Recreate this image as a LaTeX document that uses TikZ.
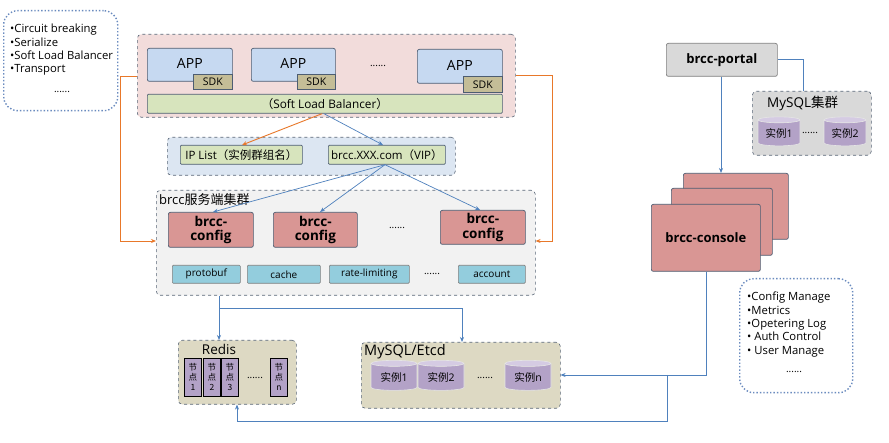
\documentclass[tikz,border=0pt]{standalone}
\usepackage{fontspec}
\setmainfont{Open Sans}
\newfontfamily\cjk{Noto Sans CJK SC}
\usetikzlibrary{shapes.geometric,arrows.meta,calc}
\definecolor{pinkbg}{HTML}{F2DCDB}
\definecolor{appbl}{HTML}{C6D9F1}
\definecolor{sdkc}{HTML}{C4BD97}
\definecolor{greenc}{HTML}{D7E4BD}
\definecolor{ipbg}{HTML}{DCE6F2}
\definecolor{clbg}{HTML}{F2F2F2}
\definecolor{rosec}{HTML}{D99694}
\definecolor{cyanc}{HTML}{93CDDD}
\definecolor{tanbg}{HTML}{DDD9C3}
\definecolor{purc}{HTML}{B3A2C7}
\definecolor{purtop}{HTML}{D5CBE3}
\definecolor{grayc}{HTML}{D9D9D9}
\definecolor{linec}{HTML}{4F81BD}
\definecolor{orangec}{HTML}{E8782A}
\definecolor{dashc}{HTML}{5A6778}
\definecolor{boxc}{HTML}{4D5D72}
\definecolor{dotc}{HTML}{6A8BBF}
\begin{document}
\begin{tikzpicture}[x=1pt,y=-1pt,
  cont/.style={draw=dashc, dashed, line width=0.6pt, rounded corners=4pt, anchor=north west, inner sep=0pt},
  sbox/.style={draw=boxc, line width=0.7pt, rounded corners=2pt, anchor=north west, inner sep=0pt, align=center},
  dotbox/.style={draw=dotc, dotted, line width=1.4pt, rounded corners=14pt, anchor=north west, inner sep=0pt},
  lbl/.style={inner sep=0pt},
  dots/.style={inner sep=0pt, font=\fontsize{10}{12}\selectfont},
  cyl/.style={cylinder, shape border rotate=90, aspect=0.22, draw=white!80!gray, line width=0.6pt,
     cylinder uses custom fill, cylinder body fill=purc, cylinder end fill=purtop,
     minimum width=#1, inner sep=0pt, font=\fontsize{10.5}{12}\selectfont},
  nodebox/.style={draw=black, line width=0.8pt, fill=purc, anchor=north west, inner sep=0pt,
     minimum width=17pt, minimum height=38pt, align=center, font=\fontsize{8.5}{10}\cjk},
  arr/.style={draw=linec, line width=0.7pt, -{Stealth[length=5pt,width=4pt]}},
  ln/.style={draw=linec, line width=0.7pt},
  oarr/.style={draw=orangec, line width=0.9pt, -{Stealth[length=5pt,width=4pt]}},
]
\fill[white] (0,0) rectangle (889,443);
\useasboundingbox (0,0) rectangle (889,443);

% top-left bullets
\node[dotbox, minimum width=114pt, minimum height=100pt] (bulL) at (3,10) {};
\node[lbl, anchor=north west, align=left, font=\fontsize{11.3}{13.3}\selectfont] (bulLt) at (10,24)
  {•Circuit breaking\\•Serialize\\•Soft Load Balancer\\•Transport};
\node[dots] (bulLd) at (62,92) {......};

% app layer
\node[cont, fill=pinkbg, minimum width=378pt, minimum height=83pt] (pink) at (137,34) {};
\node[sbox, fill=appbl, minimum width=85pt, minimum height=33pt, font=\fontsize{14}{15}\selectfont] (app1) at (147,48) {\raisebox{2pt}{APP}};
\node[sbox, fill=sdkc, rounded corners=0pt, minimum width=39pt, minimum height=15pt, font=\fontsize{10.5}{12}\selectfont] (sdk1) at (193,74) {SDK};
\node[sbox, fill=appbl, minimum width=84pt, minimum height=33pt, font=\fontsize{14}{15}\selectfont] (app2) at (251,48) {\raisebox{2pt}{APP}};
\node[sbox, fill=sdkc, rounded corners=0pt, minimum width=38pt, minimum height=15pt, font=\fontsize{10.5}{12}\selectfont] (sdk2) at (297,74) {SDK};
\node[dots] (appd) at (378,66) {......};
\node[sbox, fill=appbl, minimum width=85pt, minimum height=34pt, font=\fontsize{14}{15}\selectfont] (app3) at (417,49) {\raisebox{2pt}{APP}};
\node[sbox, fill=sdkc, rounded corners=0pt, minimum width=39pt, minimum height=16pt, font=\fontsize{10.5}{12}\selectfont] (sdk3) at (463,76) {SDK};
\node[sbox, fill=greenc, rounded corners=1pt, minimum width=355pt, minimum height=19pt, font=\fontsize{11.8}{13}\selectfont] (slb) at (147,94) {{\cjk （}Soft Load Balancer{\cjk ）}};

% ip layer
\node[cont, fill=ipbg, minimum width=288pt, minimum height=38pt] (ipc) at (167,137) {};
\node[sbox, fill=greenc, rounded corners=1pt, minimum width=122pt, minimum height=19pt, font=\fontsize{11.5}{13}\selectfont] (ip) at (180,145) {IP List{\cjk （实例群组名）}};
\node[sbox, fill=greenc, rounded corners=1pt, minimum width=117pt, minimum height=19pt, font=\fontsize{11.5}{13}\selectfont] (vip) at (328,145) {brcc.XXX.com{\cjk （}VIP{\cjk ）}};

% server cluster
\node[cont, fill=clbg, minimum width=379pt, minimum height=105pt] (cluster) at (156,190) {};
\node[lbl, anchor=west, font=\fontsize{13}{14}\selectfont] (clusterl) at (159,200) {brcc{\cjk 服务端集群}};
\node[sbox, fill=rosec, minimum width=85pt, minimum height=35pt, font=\fontsize{13.5}{14.5}\bfseries] (cfg1) at (168,212) {brcc-\\config};
\node[sbox, fill=rosec, minimum width=84pt, minimum height=35pt, font=\fontsize{13.5}{14.5}\bfseries] (cfg2) at (273,212) {brcc-\\config};
\node[dots] (cfgd) at (397,228) {......};
\node[sbox, fill=rosec, minimum width=85pt, minimum height=34pt, font=\fontsize{13.5}{14.5}\bfseries] (cfg3) at (440,210) {brcc-\\config};
\node[sbox, draw=gray, fill=cyanc, rounded corners=1pt, minimum width=68pt, minimum height=18pt, font=\fontsize{10}{11}\selectfont] (pb) at (172,265) {protobuf};
\node[sbox, draw=gray, fill=cyanc, rounded corners=1pt, minimum width=73pt, minimum height=18pt, font=\fontsize{10}{11}\selectfont] (cache) at (247,265) {cache};
\node[sbox, draw=gray, fill=cyanc, rounded corners=1pt, minimum width=80pt, minimum height=18pt, font=\fontsize{10}{11}\selectfont] (rl) at (329,265) {rate-limiting};
\node[dots] (smd) at (432,274) {......};
\node[sbox, draw=gray, fill=cyanc, rounded corners=1pt, minimum width=67pt, minimum height=18pt, font=\fontsize{10}{11}\selectfont] (acc) at (458,265) {account};

% redis
\node[cont, fill=tanbg, minimum width=118pt, minimum height=64pt] (redis) at (178,340) {};
\node[lbl, font=\fontsize{13.5}{15}\selectfont] (redisl) at (219,349) {Redis};
\node[nodebox] (n1) at (184,358) {节\\点\\1};
\node[nodebox] (n2) at (203,358) {节\\点\\2};
\node[nodebox] (n3) at (221,358) {节\\点\\3};
\node[dots] (nd) at (255,378) {......};
\node[nodebox] (nn) at (270,358) {节\\点\\n};

% mysql/etcd
\node[cont, fill=tanbg, minimum width=199pt, minimum height=66pt] (mysql) at (361,342) {};
\node[lbl, anchor=west, font=\fontsize{14.5}{16}\selectfont] (mysqll) at (364,352) {MySQL/Etcd};
\node[cyl=46pt, minimum height=30pt] (i1) at (394,377) {{\cjk 实例}1};
\node[cyl=46pt, minimum height=30pt] (i2) at (441,377) {{\cjk 实例}2};
\node[dots] (id) at (485,378) {......};
\node[cyl=46pt, minimum height=30pt] (in) at (528,377) {{\cjk 实例}n};

% portal
\node[sbox, draw=gray, fill=grayc, minimum width=111pt, minimum height=33pt, font=\fontsize{13}{14}\bfseries] (portal) at (666,43) {brcc-portal};
\node[cont, fill=grayc, minimum width=119pt, minimum height=64pt] (mysqlc) at (752,91) {};
\node[lbl, anchor=west, font=\fontsize{13.5}{15}\selectfont] (mysqlcl) at (767,103) {MySQL{\cjk 集群}};
\node[cyl=42pt, minimum height=29pt] (m1) at (779,133) {{\cjk 实例}1};
\node[dots] (md) at (810,133) {......};
\node[cyl=42pt, minimum height=29pt] (m2) at (845,133) {{\cjk 实例}2};

% console
\node[sbox, fill=rosec, minimum width=105pt, minimum height=66pt] (cback) at (683,173) {};
\node[sbox, fill=rosec, minimum width=101pt, minimum height=67pt] (cmid) at (671,188) {};
\node[sbox, fill=rosec, minimum width=109pt, minimum height=67pt, font=\fontsize{13}{14}\bfseries] (cfront) at (651,204) {brcc-console};

% right bullets
\node[dotbox, minimum width=113pt, minimum height=114pt] (bulR) at (739,278) {};
\node[lbl, anchor=north west, align=left, font=\fontsize{11.3}{13.3}\selectfont] (bulRt) at (747,292)
  {•Config Manage\\•Metrics\\•Opetering Log\\• Auth Control\\• User Manage};
\node[dots] (bulRd) at (794,372) {......};

% connectors
\draw[oarr] ($(slb.south west)+(175,0)$) -- ($(ip.north west)+(62,0)$);
\draw[arr] ($(slb.south west)+(177,0)$) -- ($(vip.north west)+(55,0)$);
\coordinate (vs) at ($(vip.south west)+(57,0)$);
\draw[arr] (vs) -- ($(cfg1.north west)+(45,0)$);
\draw[arr] (vs) -- ($(cfg2.north west)+(47,0)$);
\draw[arr] (vs) -- ($(cfg3.north west)+(40,0)$);

\coordinate (oL1) at (120,76); \coordinate (oL2) at (120,241);
\draw[oarr] (pink.west |- oL1) -- (oL1) -- (oL2) -- (cluster.west |- oL2);
\coordinate (oR1) at (552,75); \coordinate (oR2) at (552,241);
\draw[oarr] (pink.east |- oR1) -- (oR1) -- (oR2) -- (cluster.east |- oR2);

\coordinate (b1) at (219,308); \coordinate (b2) at (462,308);
\draw[arr] (cluster.south -| b1) -- (redis.north -| b1);
\draw[arr] (b1) -- (b2) -- (mysql.north -| b2);

\coordinate (pc) at (721,120);
\draw[arr] (portal.south -| pc) -- (cback.north -| pc);
\coordinate (pm) at (803,59);
\draw[ln] (portal.east |- pm) -- (pm) -- (mysqlc.north -| pm);

\coordinate (c1) at (706,375); \coordinate (c2) at (667,375);
\coordinate (c3) at (667,421); \coordinate (c4) at (237,421);
\draw[arr] (cfront.south -| c1) -- (c1) -- (mysql.east |- c1);
\draw[arr] (c2) -- (c3) -- (c4) -- (redis.south -| c4);
\end{tikzpicture}
\end{document}
